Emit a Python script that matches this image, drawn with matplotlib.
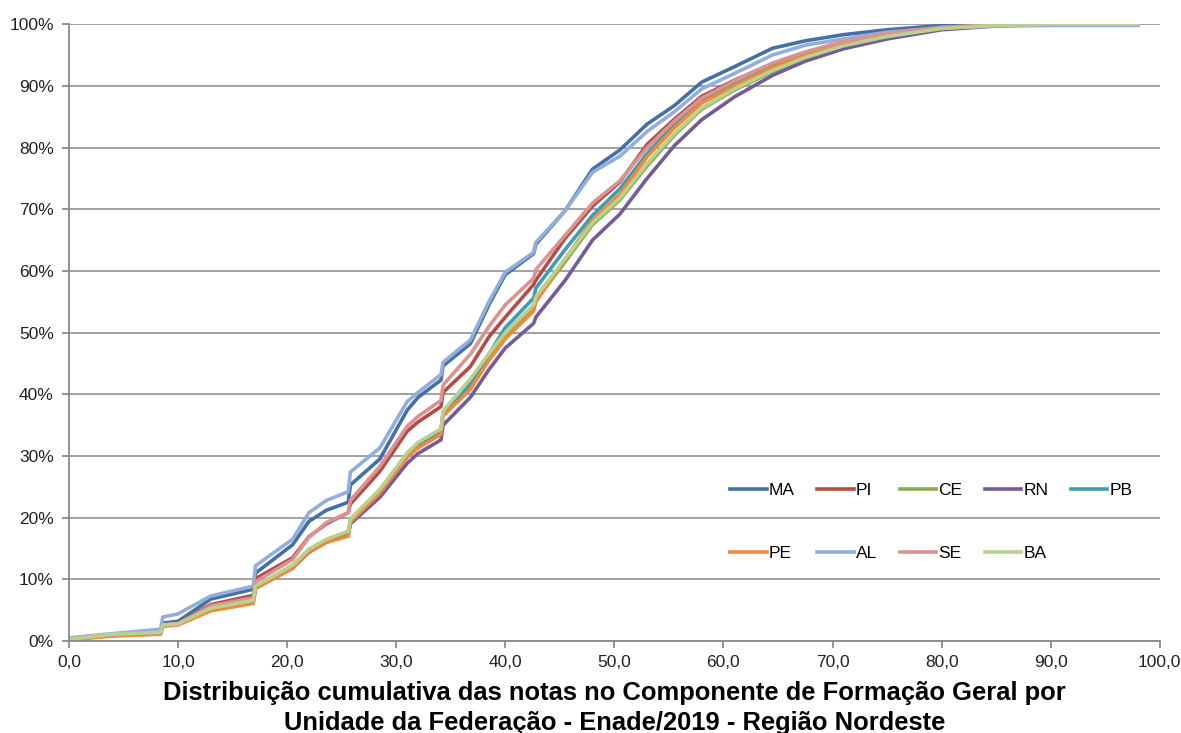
import matplotlib
matplotlib.use("Agg")
import matplotlib.pyplot as plt
from matplotlib.ticker import FuncFormatter, MultipleLocator

plt.rcParams['font.family'] = ['Liberation Sans', 'DejaVu Sans']

# notas (eixo x) onde cada curva foi lida; pares próximos marcam os saltos
notas = [0, 4, 8.4, 8.6, 10, 13, 16.9, 17.1, 20.5, 22, 23.6, 25.6, 25.8, 28.5,
         31, 32, 34.1, 34.3, 36.8, 38.5, 40, 42.6, 42.8, 45.5, 48, 50.5, 53,
         55.5, 58, 61, 64.5, 67.5, 71, 75, 80, 85, 90, 98]

# percentual acumulado por UF
ma = [0.4, 1.1, 1.5, 2.9, 3.2, 6.8, 8.4, 11.0, 15.6, 19.4, 21.2, 22.5, 25.3, 29.5,
      37.4, 39.5, 42.3, 44.6, 48.2, 54.5, 59.4, 62.8, 64.3, 69.8, 76.5, 79.6, 83.8,
      86.8, 90.6, 93.1, 96.1, 97.3, 98.3, 99.1, 99.8, 100, 100, 100]
pi = [0.3, 1.0, 1.4, 2.6, 2.9, 5.9, 7.4, 10.1, 13.5, 16.9, 19.0, 20.8, 22.2, 27.5,
      34.0, 35.5, 38.0, 40.3, 44.5, 49.3, 52.5, 57.8, 58.5, 65.3, 70.5, 74.4, 80.5,
      84.6, 88.3, 90.9, 93.6, 95.3, 97.0, 98.4, 99.5, 99.9, 100, 100]
ce = [0.3, 1.0, 1.3, 2.5, 2.7, 5.1, 6.4, 8.7, 12.0, 14.6, 16.2, 17.4, 19.4, 24.0,
      29.8, 31.4, 33.8, 36.8, 41.8, 46.0, 49.6, 54.0, 55.2, 61.5, 67.5, 71.5, 77.0,
      82.0, 86.2, 89.3, 92.3, 94.4, 96.3, 97.8, 99.2, 99.8, 100, 100]
rn = [0.2, 0.9, 1.3, 2.5, 2.7, 5.1, 6.4, 8.6, 11.8, 14.4, 16.0, 17.2, 19.0, 23.3,
      28.8, 30.4, 32.6, 35.0, 39.5, 44.0, 47.5, 51.5, 52.5, 58.5, 65.0, 69.2, 75.0,
      80.3, 84.5, 88.2, 91.7, 94.0, 96.0, 97.6, 99.1, 99.7, 100, 100]
pb = [0.3, 1.0, 1.4, 2.5, 2.8, 5.2, 6.6, 8.8, 12.2, 14.8, 16.4, 17.6, 19.6, 24.3,
      30.3, 31.8, 34.0, 37.2, 41.5, 46.5, 50.8, 55.6, 57.2, 63.5, 69.0, 73.3, 79.0,
      83.8, 87.5, 90.3, 93.2, 95.0, 96.8, 98.2, 99.4, 99.9, 100, 100]
pe = [0.2, 0.8, 1.1, 2.4, 2.6, 4.9, 6.1, 8.5, 11.8, 14.5, 16.0, 17.0, 19.3, 24.0,
      29.8, 31.3, 33.5, 36.5, 40.8, 45.5, 49.0, 53.5, 55.0, 62.0, 68.2, 72.4, 78.5,
      83.2, 87.2, 90.0, 93.0, 94.9, 96.7, 98.1, 99.4, 99.9, 100, 100]
al = [0.5, 1.2, 1.9, 3.9, 4.4, 7.3, 8.9, 12.2, 16.5, 20.8, 22.8, 24.2, 27.4, 31.3,
      38.8, 40.3, 43.2, 45.2, 48.8, 55.0, 59.8, 63.0, 64.6, 69.8, 76.0, 78.6, 82.6,
      85.8, 89.5, 92.0, 95.0, 96.6, 97.6, 98.7, 99.4, 99.7, 99.8, 99.8]
se = [0.3, 1.0, 1.4, 2.6, 2.8, 5.7, 7.0, 9.6, 13.2, 16.8, 19.2, 20.8, 22.8, 28.3,
      34.8, 36.4, 39.0, 41.5, 46.5, 51.0, 54.5, 58.8, 60.2, 65.8, 71.0, 74.6, 80.0,
      84.3, 88.0, 90.8, 93.7, 95.5, 97.2, 98.5, 99.5, 99.9, 100, 100]
ba = [0.3, 1.1, 1.4, 2.6, 2.8, 5.3, 6.6, 8.9, 12.3, 14.9, 16.5, 17.8, 19.8, 24.6,
      30.5, 32.2, 34.4, 37.3, 42.5, 46.6, 50.0, 54.5, 55.8, 62.0, 67.8, 71.8, 77.4,
      82.3, 86.4, 89.5, 92.5, 94.6, 96.5, 98.0, 99.3, 99.8, 100, 100]

ufs = ['MA', 'PI', 'CE', 'RN', 'PB', 'PE', 'AL', 'SE', 'BA']
series = [ma, pi, ce, rn, pb, pe, al, se, ba]
cores = ['#4470AA', '#B44B48', '#8BAD4E', '#765B9C', '#3E9DB6',
         '#F08A36', '#93AEDA', '#DB9391', '#B9D18F']

fig = plt.figure(figsize=(11.81, 7.33), dpi=100)
ax = fig.add_axes([0.0584, 0.1255, 0.9236, 0.8415])

linhas = {}
for uf, valores, cor in zip(ufs, series, cores):
    linhas[uf], = ax.plot(notas, [v / 100 for v in valores], color=cor, lw=2.6,
                          label=uf, solid_joinstyle='round')

ax.set_xlim(0, 100)
ax.set_ylim(0, 1)
ax.xaxis.set_major_locator(MultipleLocator(10))
ax.yaxis.set_major_locator(MultipleLocator(0.1))
ax.xaxis.set_major_formatter(FuncFormatter(lambda v, p: f"{v:.1f}".replace('.', ',')))
ax.yaxis.set_major_formatter(FuncFormatter(lambda v, p: f"{v * 100:.0f}%"))

ax.grid(axis='y', color='#9a9a9a', lw=1.3)
ax.set_axisbelow(True)
for s in ['top', 'right']:
    ax.spines[s].set_visible(False)
for s in ['left', 'bottom']:
    ax.spines[s].set_color('#8a8a8a')
    ax.spines[s].set_linewidth(1.3)
ax.tick_params(colors='#8a8a8a', length=5, width=1.3, labelsize=12.5,
               labelcolor='#222222')
ax.tick_params(axis='x', pad=5)
ax.tick_params(axis='y', pad=6)

ax.set_xlabel("Distribuição cumulativa das notas no Componente de Formação Geral por\n"
              "Unidade da Federação - Enade/2019 - Região Nordeste",
              fontsize=18.4, fontweight='bold', labelpad=8, linespacing=1.3)

# legenda em duas linhas: a legenda preenche por coluna, então intercala
ordem = ['MA', 'PE', 'PI', 'AL', 'CE', 'SE', 'RN', 'BA', 'PB']
ax.legend([linhas[u] for u in ordem], ordem, loc='upper left',
          bbox_to_anchor=(0.592, 0.282), ncol=5, frameon=False,
          fontsize=12.5, handlelength=2.1, handletextpad=0.12,
          columnspacing=1.3, labelspacing=2.75)

fig.savefig('out.png', dpi=100)
